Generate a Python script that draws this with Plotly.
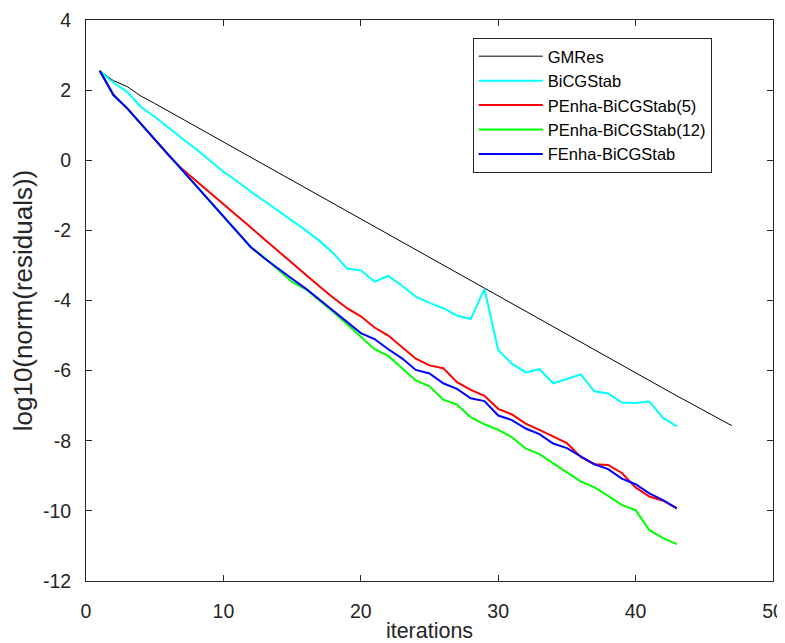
import plotly.graph_objects as go

gmres_iter = list(range(1, 48))
gmres = [2.55, 2.27, 2.10, 1.83, 1.62, 1.40, 1.18, 0.96, 0.74, 0.52,
         0.30, 0.08, -0.14, -0.36, -0.58, -0.80, -1.02, -1.24, -1.46, -1.67,
         -1.89, -2.11, -2.33, -2.55, -2.77, -2.99, -3.21, -3.43, -3.65, -3.87,
         -4.09, -4.30, -4.52, -4.74, -4.96, -5.18, -5.40, -5.62, -5.84, -6.06,
         -6.28, -6.50, -6.72, -6.93, -7.15, -7.37, -7.57]

it43 = list(range(1, 44))
bicgstab = [2.55, 2.21, 1.95, 1.52, 1.24, 0.92, 0.62, 0.32, 0.00, -0.33,
            -0.60, -0.90, -1.17, -1.44, -1.71, -2.00, -2.30, -2.65, -3.09, -3.14,
            -3.46, -3.30, -3.58, -3.89, -4.07, -4.22, -4.43, -4.53, -3.67, -5.42,
            -5.80, -6.05, -5.96, -6.36, -6.24, -6.11, -6.59, -6.65, -6.91, -6.92,
            -6.88, -7.35, -7.59]

penha5 = [2.55, 1.86, 1.48, 1.04, 0.60, 0.14, -0.25, -0.58, -0.92, -1.25,
          -1.59, -1.92, -2.26, -2.60, -2.93, -3.27, -3.60, -3.92, -4.22, -4.45,
          -4.77, -5.00, -5.33, -5.66, -5.85, -5.93, -6.33, -6.55, -6.72, -7.09,
          -7.25, -7.51, -7.69, -7.89, -8.07, -8.46, -8.67, -8.69, -8.92, -9.33,
          -9.59, -9.71, -9.93]

penha12 = [2.55, 1.86, 1.48, 1.04, 0.60, 0.16, -0.28, -0.72, -1.16, -1.60,
           -2.04, -2.48, -2.78, -3.12, -3.47, -3.68, -4.00, -4.33, -4.68, -5.03,
           -5.39, -5.58, -5.94, -6.28, -6.45, -6.83, -6.97, -7.33, -7.53, -7.69,
           -7.90, -8.22, -8.38, -8.65, -8.90, -9.16, -9.33, -9.57, -9.83, -9.98,
           -10.55, -10.78, -10.95]

fenha = [2.55, 1.86, 1.48, 1.04, 0.60, 0.16, -0.28, -0.72, -1.16, -1.60,
         -2.04, -2.48, -2.80, -3.10, -3.38, -3.66, -3.98, -4.30, -4.62, -4.93,
         -5.10, -5.39, -5.65, -5.98, -6.08, -6.36, -6.52, -6.79, -6.87, -7.28,
         -7.41, -7.65, -7.81, -8.08, -8.21, -8.43, -8.67, -8.81, -9.08, -9.24,
         -9.50, -9.69, -9.93]

x_ticks = [0, 10, 20, 30, 40, 50]
x_labels = ["0", "10", "20", "30", "40", "50"]
y_ticks = [4, 2, 0, -2, -4, -6, -8, -10, -12]
y_labels = ["4", "2", "0", "-2", "-4", "-6", "-8", "-10", "-12"]

FONT = "Liberation Sans"
DARK = "#262626"

fig = go.Figure()
fig.add_trace(go.Scatter(x=gmres_iter, y=gmres, mode="lines", name="GMRes",
                         line=dict(color="black", width=1)))
fig.add_trace(go.Scatter(x=it43, y=bicgstab, mode="lines", name="BiCGStab",
                         line=dict(color="#00FFFF", width=2)))
fig.add_trace(go.Scatter(x=it43, y=penha5, mode="lines", name="PEnha-BiCGStab(5)",
                         line=dict(color="#FF0000", width=2)))
fig.add_trace(go.Scatter(x=it43, y=penha12, mode="lines", name="PEnha-BiCGStab(12)",
                         line=dict(color="#00FF00", width=2)))
fig.add_trace(go.Scatter(x=it43, y=fenha, mode="lines", name="FEnha-BiCGStab",
                         line=dict(color="#0000FF", width=2)))

axis_common = dict(showgrid=False, zeroline=False, showline=True, linecolor=DARK,
                   linewidth=1, mirror="allticks", ticks="inside", ticklen=6,
                   tickcolor=DARK, automargin=False,
                   tickfont=dict(family=FONT, size=19.5, color=DARK))

fig.update_xaxes(range=[0, 50], tickvals=x_ticks, ticktext=x_labels, ticklabelstandoff=13,
                 title=dict(text="iterations", font=dict(family=FONT, size=21.5, color=DARK), standoff=8),
                 **axis_common)
fig.update_yaxes(range=[-12, 4], tickvals=y_ticks, ticktext=y_labels, ticklabelstandoff=10,
                 title=dict(text="log10(norm(residuals))", font=dict(family=FONT, size=26, color=DARK), standoff=8),
                 **axis_common)

# page body has an 8px margin, so the figure is shifted by (8, 8)
fig.update_layout(
    width=777, height=635,
    margin=dict(l=78, r=12, t=12, b=62),
    plot_bgcolor="white", paper_bgcolor="white",
    legend=dict(x=0.563, y=0.968, xanchor="left", yanchor="top",
                bgcolor="white", bordercolor=DARK, borderwidth=1,
                font=dict(family=FONT, size=16.5, color="#000000"),
                itemwidth=64, tracegroupgap=0),
)

fig.write_html("out.html")
